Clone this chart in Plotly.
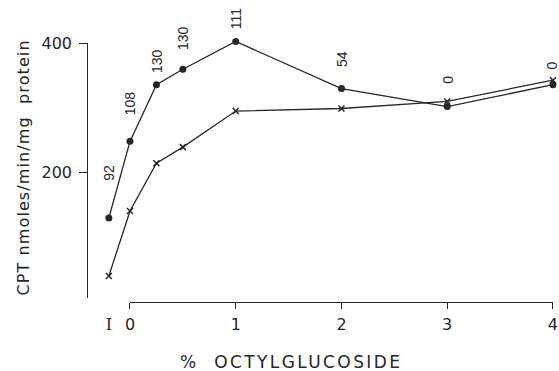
import plotly.graph_objects as go

# x positions: "I" (intact) placed left of 0, then % octylglucoside
x_pos = [-0.2, 0, 0.25, 0.5, 1, 2, 3, 4]
tick_vals = [-0.2, 0, 1, 2, 3, 4]
tick_text = ['<span style="font-family:DejaVu Serif">I</span>', "0", "1", "2", "3", "4"]

circle_vals = [129, 248, 336, 360, 403, 330, 302, 336]
cross_vals = [39, 140, 214, 239, 295, 299, 310, 343]

label_text = ["92", "108", "130", "130", "111", "54", "0", "0"]
label_shift = [45, 38, 24, 31, 23, 30, 27, 19]

y_ticks = [200, 400]

ink = "#262626"
font_fam = "DejaVu Sans, Liberation Sans, Arial"

fig = go.Figure()
fig.add_trace(go.Scatter(
    x=x_pos, y=circle_vals, mode="lines+markers",
    line=dict(color=ink, width=1.3),
    marker=dict(symbol="circle", size=7, color=ink),
    cliponaxis=False, showlegend=False))
fig.add_trace(go.Scatter(
    x=x_pos, y=cross_vals, mode="lines+markers",
    line=dict(color=ink, width=1.3),
    marker=dict(symbol="x-thin", size=6, color=ink, line=dict(color=ink, width=1.5)),
    cliponaxis=False, showlegend=False))
# carrier traces for the drawn axis lines (0-4 on x, up to 400 on y)
fig.add_trace(go.Scatter(x=[0, 4], y=[None, None], xaxis="x2", yaxis="y",
                         mode="lines", showlegend=False, hoverinfo="skip"))
fig.add_trace(go.Scatter(x=[None, None], y=[200, 400], xaxis="x", yaxis="y2",
                         mode="lines", showlegend=False, hoverinfo="skip"))

for xv, yv, t, s in zip(x_pos, circle_vals, label_text, label_shift):
    fig.add_annotation(x=xv, y=yv, text=t, showarrow=False, textangle=-90,
                       yshift=s, xshift=-1 if xv == 4 else 0,
                       font=dict(size=14, color=ink, family="Liberation Sans, Arial"))

# x-axis title
fig.add_annotation(xref="paper", yref="paper", x=0.438, y=-0.226,
                   text='<span style="letter-spacing:2.4px">%  OCTYLGLUCOSIDE</span>',
                   showarrow=False, xanchor="center", yanchor="middle",
                   font=dict(size=17, color=ink, family=font_fam))

x_left = -0.4066
x_right = 4.0005
d2 = (0 - x_left) / (x_right - x_left)

y_low, y_high, y_top_axis = 5, 410, 400
ydom0 = 0.0155
ydom_top2 = ydom0 + (y_top_axis - y_low) / (y_high - y_low) * (1 - ydom0)

fig.update_layout(
    width=559, height=371,
    margin=dict(l=87, r=6, t=37, b=69, autoexpand=False),
    paper_bgcolor="white", plot_bgcolor="rgba(0,0,0,0)",
    font=dict(family=font_fam, color=ink, size=15),
    xaxis=dict(range=[x_left, x_right], domain=[0, 1], anchor="free", position=0,
               automargin=False,
               showline=False, showgrid=False, zeroline=False, ticks="",
               tickvals=tick_vals, ticktext=tick_text, ticklabelstandoff=11,
               tickfont=dict(size=16)),
    xaxis2=dict(range=[0, x_right], domain=[d2, 1], anchor="free", position=0,
                automargin=False,
                showline=True, linecolor=ink, linewidth=1.3,
                ticks="outside", ticklen=6, tickwidth=1.3, tickcolor=ink,
                tickvals=[0, 1, 2, 3, 4], showticklabels=False,
                showgrid=False, zeroline=False),
    yaxis=dict(range=[y_low, y_high], domain=[ydom0, 1], automargin=False,
               anchor="x", showline=False, ticks="",
               tickvals=y_ticks, showgrid=False, zeroline=False,
               ticklabelstandoff=14,
               tickfont=dict(size=16),
               title=dict(text='<span style="letter-spacing:1.1px">CPT nmoles/min/mg  protein</span>',
                          font=dict(size=16), standoff=7)),
    yaxis2=dict(range=[y_low, y_top_axis], domain=[ydom0, ydom_top2], automargin=False,
                anchor="free", position=0,
                showline=True, linecolor=ink, linewidth=1.3,
                ticks="outside", ticklen=8, tickwidth=1.3, tickcolor=ink,
                tickvals=y_ticks, showticklabels=False,
                showgrid=False, zeroline=False),
)

fig.write_html("out.html", config={"displayModeBar": False},
               post_script="document.body.style.margin='0';")
